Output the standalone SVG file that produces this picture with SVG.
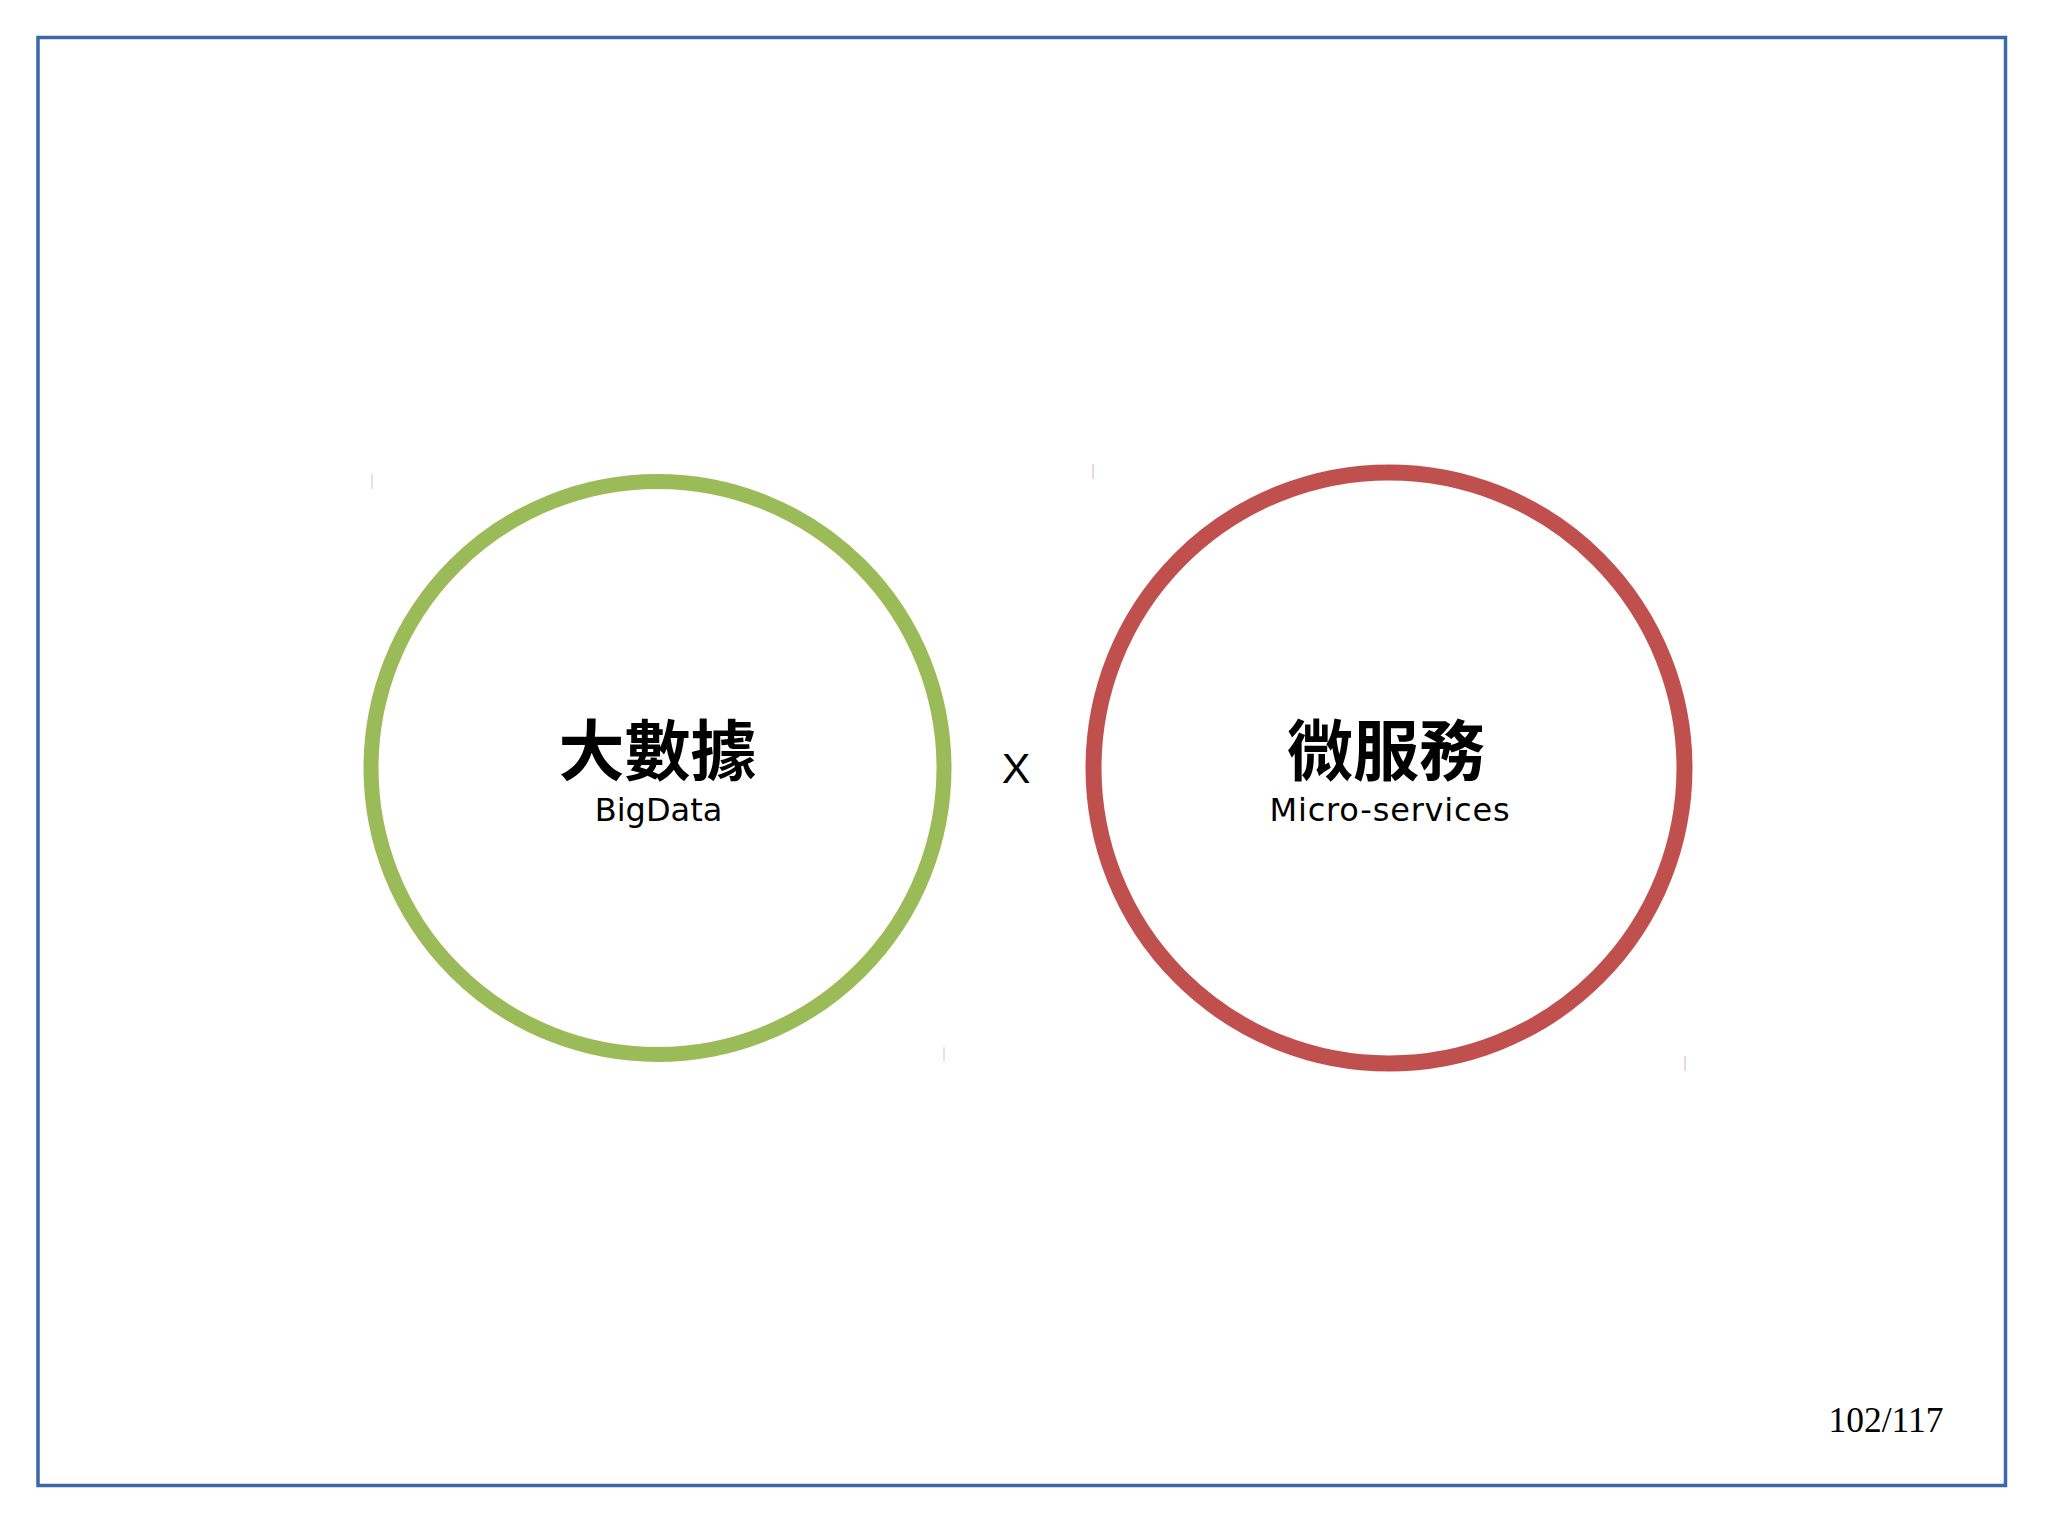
<svg xmlns="http://www.w3.org/2000/svg" width="2048" height="1535" viewBox="0 0 2048 1535">
<style>
.cjk{font-family:"Noto Sans CJK TC","Noto Sans CJK SC",sans-serif;font-weight:700;font-size:66px;fill:#000;text-anchor:middle}
.en{font-family:"DejaVu Sans","Liberation Sans",sans-serif;font-size:32px;fill:#000;text-anchor:middle}
.ring{fill:none}
.tick{stroke-width:1.5}
</style>
<rect x="0" y="0" width="2048" height="1535" fill="#ffffff"/>
<rect id="frame" x="38" y="37.5" width="1967.5" height="1448" fill="none" stroke="#3c67ab" stroke-width="3.5"/>
<g id="ticks">
<line class="tick" x1="372" y1="474" x2="372" y2="489" stroke="#d9ddd0"/>
<line class="tick" x1="944" y1="1047" x2="944" y2="1061" stroke="#d9ddd0"/>
<line class="tick" x1="1093" y1="464" x2="1093" y2="479" stroke="#ecc8c8"/>
<line class="tick" x1="1685" y1="1056" x2="1685" y2="1071" stroke="#ecc8c8"/>
</g>
<g id="bigdata">
<circle class="ring" cx="657.5" cy="768" r="286.5" stroke="#9bbb59" stroke-width="15"/>
<text class="cjk" x="657.5" y="775">大數據</text>
<text class="en" x="658.5" y="821">BigData</text>
</g>
<g id="microservices">
<circle class="ring" cx="1389" cy="768" r="295.5" stroke="#c0504d" stroke-width="16"/>
<text class="cjk" x="1386" y="775">微服務</text>
<text class="en" x="1390" y="821" letter-spacing="0.8">Micro-services</text>
</g>
<g id="connectors">
<text x="1016" y="783" font-family="Liberation Sans, Arial, sans-serif" font-size="43" fill="#000" text-anchor="middle">X</text>
</g>
<text id="page" x="1886" y="1432" font-family="Liberation Serif, Times New Roman, serif" font-size="35.5" fill="#000" text-anchor="middle">102/117</text>
</svg>
